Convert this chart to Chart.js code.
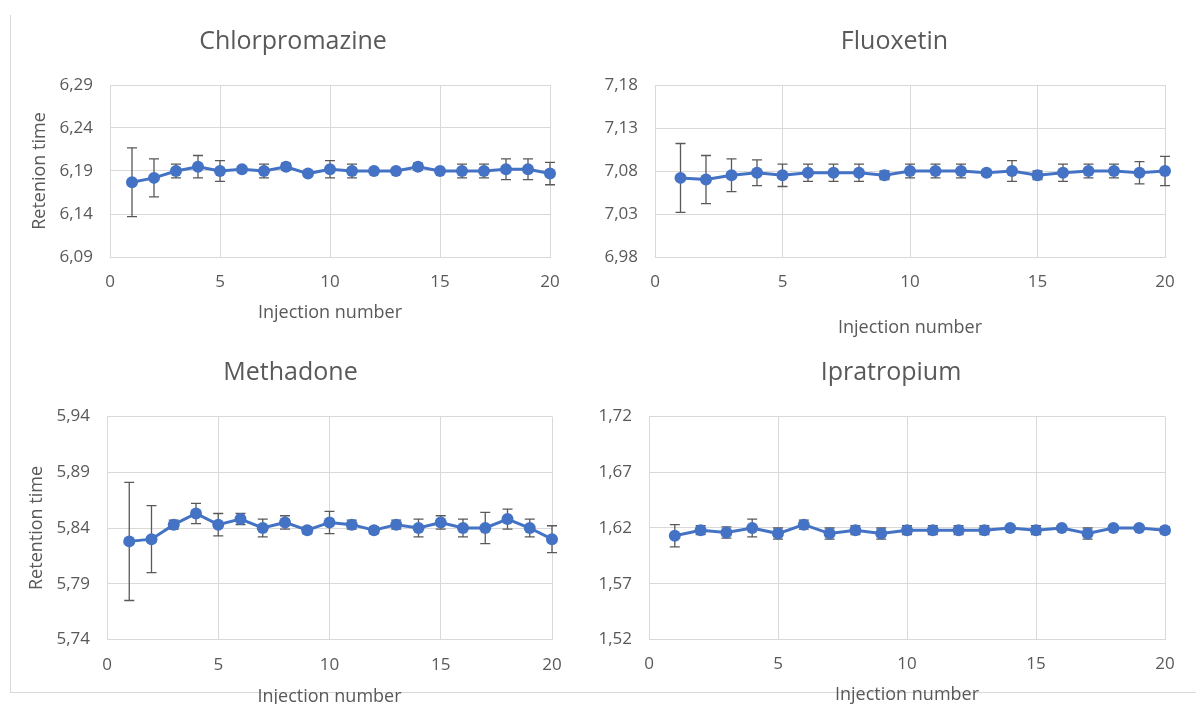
<!DOCTYPE html>
<html>
<head>
<meta charset="utf-8">
<script src="https://cdn.jsdelivr.net/npm/chart.js@4.4.1/dist/chart.umd.min.js"></script>
<style>
  html, body { margin: 0; padding: 0; background: #fff; overflow: hidden; }
  body { width: 1196px; height: 704px; position: relative; }
  .frame { position: absolute; left: 10px; top: 15px; width: 1186px; height: 677px;
           border-left: 1px solid #d9d9d9; border-bottom: 1px solid #d9d9d9; }
  canvas { position: absolute; }
</style>
</head>
<body>
<div class="frame"></div>
<canvas id="chlor" width="586" height="345" style="left:0;top:0"></canvas>
<canvas id="fluo" width="591" height="345" style="left:599px;top:0"></canvas>
<canvas id="meth" width="581" height="360" style="left:0;top:350px"></canvas>
<canvas id="ipra" width="596" height="360" style="left:593px;top:350px"></canvas>
<script>
// injection numbers and x ticks shared by all four panels
const injection = [1, 2, 3, 4, 5, 6, 7, 8, 9, 10, 11, 12, 13, 14, 15, 16, 17, 18, 19, 20];
const xTicks = [0, 5, 10, 15, 20];

// Chlorpromazine
const chlorMean = [6.177, 6.182, 6.190, 6.195, 6.190, 6.192, 6.190, 6.195, 6.187, 6.192, 6.190, 6.190, 6.190, 6.195, 6.190, 6.190, 6.190, 6.192, 6.192, 6.187];
const chlorErr = [0.040, 0.022, 0.008, 0.013, 0.012, 0.003, 0.008, 0.004, 0.002, 0.010, 0.008, 0.002, 0.002, 0.004, 0.002, 0.008, 0.008, 0.012, 0.012, 0.013];
const chlorTicks = [6.09, 6.14, 6.19, 6.24, 6.29];

// Fluoxetin
const fluoMean = [7.072, 7.070, 7.075, 7.078, 7.075, 7.078, 7.078, 7.078, 7.075, 7.080, 7.080, 7.080, 7.078, 7.080, 7.075, 7.078, 7.080, 7.080, 7.078, 7.080];
const fluoErr = [0.040, 0.028, 0.019, 0.015, 0.013, 0.010, 0.010, 0.010, 0.005, 0.008, 0.008, 0.008, 0.003, 0.012, 0.005, 0.010, 0.008, 0.008, 0.013, 0.017];
const fluoTicks = [6.98, 7.03, 7.08, 7.13, 7.18];

// Methadone
const methMean = [5.828, 5.830, 5.843, 5.853, 5.843, 5.848, 5.840, 5.845, 5.838, 5.845, 5.843, 5.838, 5.843, 5.840, 5.845, 5.840, 5.840, 5.848, 5.840, 5.830];
const methErr = [0.053, 0.030, 0.004, 0.009, 0.010, 0.005, 0.008, 0.006, 0.003, 0.010, 0.004, 0.003, 0.004, 0.008, 0.006, 0.008, 0.014, 0.009, 0.008, 0.012];
const methTicks = [5.74, 5.79, 5.84, 5.89, 5.94];

// Ipratropium
const ipraMean = [1.613, 1.618, 1.616, 1.620, 1.615, 1.623, 1.615, 1.618, 1.615, 1.618, 1.618, 1.618, 1.618, 1.620, 1.618, 1.620, 1.615, 1.620, 1.620, 1.618];
const ipraErr = [0.010, 0.004, 0.005, 0.008, 0.005, 0.004, 0.005, 0.004, 0.005, 0.004, 0.004, 0.004, 0.004, 0.002, 0.004, 0.002, 0.005, 0.002, 0.002, 0.003];
const ipraTicks = [1.52, 1.57, 1.62, 1.67, 1.72];

const FONT = "'Open Sans', 'Noto Sans', sans-serif";
const TEXT = "#595959";
const GRID = "#d9d9d9";
const BLUE = "#4472C4";

// vertical error bars with caps, drawn under the line and markers
const errorBars = {
  id: "errorBars",
  beforeDatasetsDraw(chart) {
    const ctx = chart.ctx;
    const y = chart.scales.y;
    chart.data.datasets.forEach((ds, i) => {
      if (!ds.errors) return;
      const meta = chart.getDatasetMeta(i);
      ctx.save();
      ctx.strokeStyle = "#595959";
      ctx.lineWidth = 1.3;
      meta.data.forEach((pt, j) => {
        const v = ds.data[j].y, e = ds.errors[j];
        const top = y.getPixelForValue(v + e), bot = y.getPixelForValue(v - e);
        ctx.beginPath();
        ctx.moveTo(pt.x, top); ctx.lineTo(pt.x, bot);
        ctx.moveTo(pt.x - 5, top); ctx.lineTo(pt.x + 5, top);
        ctx.moveTo(pt.x - 5, bot); ctx.lineTo(pt.x + 5, bot);
        ctx.stroke();
      });
      ctx.restore();
    });
  }
};

function makePanel(id, p) {
  const fmt = (v) => v.toFixed(2).replace(".", ",");
  new Chart(document.getElementById(id), {
    type: "line",
    data: {
      datasets: [{
        data: injection.map((x, i) => ({ x, y: p.mean[i] })),
        errors: p.err,
        borderColor: BLUE, borderWidth: 3,
        pointRadius: 6, pointHoverRadius: 6, pointBackgroundColor: BLUE, pointBorderWidth: 0,
        clip: false, tension: 0
      }]
    },
    options: {
      responsive: false, animation: false, devicePixelRatio: 1,
      layout: { padding: 0 },
      plugins: {
        legend: { display: false }, tooltip: { enabled: false },
        title: { display: true, text: p.title, color: TEXT, font: { family: FONT, size: 25, weight: "normal" },
                 padding: { top: p.titleTop, bottom: p.titleBottom } }
      },
      scales: {
        x: {
          type: "linear", min: xTicks[0], max: xTicks[xTicks.length - 1],
          afterBuildTicks: (s) => { s.ticks = xTicks.map((v) => ({ value: v })); },
          afterFit: (s) => { s.height = p.xHeight; },
          grid: { color: GRID, drawTicks: false }, border: { color: GRID },
          ticks: { color: TEXT, font: { family: FONT, size: 17 }, padding: p.xTickPad, maxRotation: 0 },
          title: { display: true, text: "Injection number", color: TEXT, font: { family: FONT, size: 18 },
                   padding: { top: 0, bottom: p.xTitleBottom } }
        },
        y: {
          min: p.ticks[0], max: p.ticks[p.ticks.length - 1],
          afterBuildTicks: (s) => { s.ticks = p.ticks.map((v) => ({ value: v })); },
          afterFit: (s) => { s.width = p.yWidth; },
          grid: { color: GRID, drawTicks: false }, border: { color: GRID },
          ticks: { color: TEXT, font: { family: FONT, size: 17 }, padding: 17, callback: (v) => fmt(v) },
          title: { display: !!p.yTitle, text: p.yTitle || "", color: TEXT, font: { family: FONT, size: 18 },
                   padding: { top: p.yTitleTop || 0, bottom: 0 } }
        },
        // empty right-hand axis: only reserves space so the title stays centred on the whole panel
        spacer: {
          type: "linear", position: "right",
          grid: { display: false }, border: { display: false }, ticks: { display: false },
          afterFit: (s) => { s.width = p.padRight; }
        }
      }
    },
    plugins: [errorBars]
  });
}

makePanel("chlor", { title: "Chlorpromazine", mean: chlorMean, err: chlorErr, ticks: chlorTicks,
  padRight: 36, titleTop: 27, titleBottom: 28, yWidth: 110, xHeight: 88, xTickPad: 15, xTitleBottom: 21.5,
  yTitle: "Retenion time", yTitleTop: 29.5 });
makePanel("fluo", { title: "Fluoxetin", mean: fluoMean, err: fluoErr, ticks: fluoTicks,
  padRight: 25, titleTop: 27, titleBottom: 28, yWidth: 56, xHeight: 88, xTickPad: 15, xTitleBottom: 6.5 });
makePanel("meth", { title: "Methadone", mean: methMean, err: methErr, ticks: methTicks,
  padRight: 29, titleTop: 8, titleBottom: 28.5, yWidth: 107, xHeight: 70.5, xTickPad: 15, xTitleBottom: 2.5,
  yTitle: "Retention time", yTitleTop: 26 });
makePanel("ipra", { title: "Ipratropium", mean: ipraMean, err: ipraErr, ticks: ipraTicks,
  padRight: 24, titleTop: 8, titleBottom: 28.5, yWidth: 56, xHeight: 70.5, xTickPad: 14, xTitleBottom: 4.5 });
</script>
</body>
</html>
